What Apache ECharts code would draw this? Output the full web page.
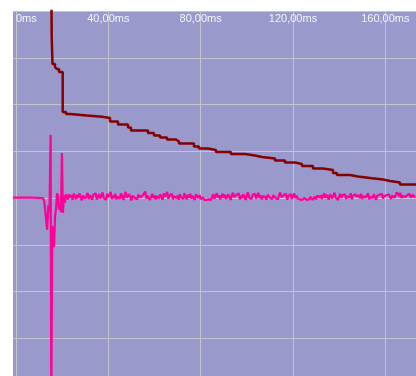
<!DOCTYPE html>
<html>
<head>
<meta charset="utf-8">
<script src="https://cdn.jsdelivr.net/npm/echarts@6/dist/echarts.min.js"></script>
<style>
  html, body { margin: 0; padding: 0; background: #ffffff; }
  #chart { width: 416px; height: 376px; }
</style>
</head>
<body>
<div id="chart"></div>
<script>
// Time axis (ms) and its labelled ticks
const tickValues = [0, 40, 80, 120, 160];
const tickLabels = ['0ms', '40,00ms', '80,00ms', '120,00ms', '160,00ms'];

// Decay trace: each point starts a new step level [ms, value]
const decayTimes = [15.16, 15.47, 15.81, 16.90, 17.76, 18.63, 20.23, 21.66, 23.39, 30.76,
  37.26, 40.72, 44.19, 48.52, 49.82, 57.18, 59.78, 62.38, 65.42, 69.32,
  70.62, 77.11, 79.28, 83.18, 86.64, 93.14, 99.21, 103.54, 106.57, 112.20,
  116.54, 120.87, 123.90, 128.67, 133.00, 137.33, 139.06, 144.70, 148.16, 154.23,
  158.99, 162.02, 166.36, 173.29];
const decayValues = [55, 34.44, 28.66, 28.02, 27.59, 26.95, 18.40, 17.97, 17.65, 17.39,
  17.11, 16.36, 15.72, 15.08, 14.44, 13.90, 13.37, 12.94, 12.51, 12.09,
  11.66, 11.02, 10.59, 10.27, 9.84, 9.41, 9.09, 8.77, 8.45, 8.02,
  7.59, 7.27, 6.84, 6.31, 5.99, 5.35, 4.92, 4.60, 4.21, 3.96,
  3.64, 3.32, 2.89, 2.89];

// Signal trace: quiet lead-in and the transient burst [ms, value]
const burstTimes = [-1.3, 6, 11.5, 12.2, 13.0, 13.5, 14.0, 14.5, 15.0, 15.3,
  15.7, 16.1, 16.5, 16.9, 17.3, 17.8, 18.2, 18.6, 19.0, 19.5,
  19.9, 20.3, 20.8, 21.2, 21.6];
const burstValues = [0.1, 0.1, 0.0, -0.5, -0.4, -6.8, -1.5, -3.0, 13.5, -45,
  -6.0, -8.0, -10.5, -4.0, -2.5, 1.0, 0.5, -2.5, -1.5, -3.0,
  9.6, -3.2, 0.5, -1.0, 0.8];

// Signal trace: residual noise sampled every 0.5 ms from 22 ms
const noiseStart = 22;
const noiseStep = 0.5;
const noiseValues = [
  0.4, -0.3, 0.8, 0.1, 0.6, -0.4, 0.9, 0.3, -0.2, 0.7, 0.0, 1.0, 0.2, -0.5, 0.5, 0.8, -0.1, 0.4, 1.1, -0.2,
  0.6, 0.1, -0.4, 0.7, 0.3, 1.0, -0.3, 0.2, 0.8, -0.1, 0.5, 1.2, 0.0, 0.4, -0.4, 0.9, 0.2, 0.6, 1.3, -0.2,
  0.5, 0.0, 0.9, -0.3, 0.3, 0.7, -0.1, 1.0, 0.4, -0.4, 0.6, 1.3, 0.1, -0.2, 0.8, 0.3, -0.5, 0.5, 0.9, 0.0,
  0.4, -0.3, 0.7, 1.0, 0.1, -0.2, 0.6, 0.3, 1.4, -0.1, 0.5, 0.8, -0.4, 0.2, 0.9, 0.0, 0.6, -0.3, 0.4, 0.7,
  -0.1, 0.8, 0.2, -0.4, 1.0, 0.3, 0.6, 1.3, -0.2, 0.5, 0.1, 0.9, -0.3, 0.4, 0.7, 0.0, 0.5, -0.4, 0.8, 0.2,
  0.6, -0.2, 1.0, 0.3, -0.3, 0.7, 0.1, 0.9, -0.1, 0.5, 0.2, -0.4, 0.8, 0.4, 0.0, 0.6, -0.2, -0.3, 0.1, -0.4,
  -0.2, -0.4, 0.0, -0.3, -0.1, -0.4, 0.3, 0.8, -0.2, 0.5, 1.0, 0.1, 0.6, -0.3, 0.4, 0.9, 0.0, 0.7, -0.2, 0.3,
  0.8, 0.1, -0.4, 0.6, 1.1, 0.2, -0.1, 0.7, 0.3, 1.0, -0.3, 0.5, 0.0, 0.8, 0.2, -0.4, 0.6, 1.2, 0.1, 0.4,
  -0.2, 0.7, 0.3, 0.9, -0.1, 0.5, 1.1, 0.0, 0.6, -0.3, 0.4, 0.8, 0.2, -0.4, 0.7, 1.0, 0.1, 0.5, -0.2, 0.6,
  0.9, 0.0, 0.4, -0.3, 0.7, 1.2, 0.2, -0.1, 0.6, 0.3, 0.9, -0.4, 0.5, 0.1, 0.8, -0.2, 0.4, 1.0, 0.0, 0.5,
  -0.1, 0.3, -0.3, 0.1, -0.4, -0.2, 0.0, -0.3, -0.4, -0.1, -0.3, 0.2, -0.2, -0.4, 0.0, 0.3, -0.3, 0.5, 0.9, 0.1,
  0.6, -0.2, 0.4, 1.0, 0.0, 0.7, 0.2, -0.3, 0.8, 0.4, -0.1, 0.6, 1.1, 0.1, 0.5, -0.4, 0.3, 0.9, 0.0, 0.6,
  0.2, 0.8, -0.2, 0.4, 0.7, 0.1, 1.0, -0.3, 0.5, 0.2, 0.8, 0.3, -0.1, 0.6, 0.0, 0.9, -0.2, 0.4, 0.7, 0.1,
  0.5, 1.0, -0.3, 0.3, 0.6, 0.0, 0.8, 0.2, -0.4, 0.5, 0.1, 0.7, 0.3, 0.9, -0.1, 0.4, 0.0, 0.6, 0.2, 0.8,
  0.3, -0.2, 0.5, 0.9, 0.1, 0.6, 1.2, 1.4, 0.4, 1.1, 0.0, 0.5, 0.8, 0.2, -0.1, 0.6, 0.3, 0.9, 0.1, 0.5,
  0.7, 0.2, 0.4
];

const decayData = decayTimes.map((t, i) => [t, decayValues[i]]);
const signalData = burstTimes.map((t, i) => [t, burstValues[i]])
  .concat(noiseValues.map((v, i) => [noiseStart + i * noiseStep, v]));

const chart = echarts.init(document.getElementById('chart'), null, { renderer: 'canvas' });

const gridColor = '#c4c4cc';

chart.setOption({
  animation: false,
  backgroundColor: '#ffffff',
  grid: {
    left: 13, right: 0, top: 11, height: 374,
    outerBoundsMode: 'none',
    show: true, backgroundColor: '#9999cc', borderWidth: 0
  },
  xAxis: {
    type: 'value',
    position: 'top',
    min: -1.3,
    max: 173.3,
    axisLine: { show: false },
    axisTick: { show: false, customValues: tickValues },
    splitLine: { show: true, customValues: tickValues, lineStyle: { color: gridColor, width: 1 } },
    axisLabel: {
      inside: true,
      customValues: tickValues,
      margin: 2,
      verticalAlign: 'top',
      color: '#f4f4f8',
      fontFamily: 'Liberation Sans, Arial, sans-serif',
      fontSize: 11,
      alignMinLabel: 'left',
      formatter: v => tickLabels[tickValues.indexOf(v)] || ''
    }
  },
  yAxis: {
    type: 'value',
    min: -40,
    max: 40,
    interval: 10,
    axisLine: { show: false },
    axisTick: { show: false },
    axisLabel: { show: false },
    splitLine: { show: true, lineStyle: { color: gridColor, width: 1 } }
  },
  series: [
    {
      name: 'signal',
      type: 'line',
      data: signalData,
      showSymbol: false,
      clip: true,
      lineStyle: { color: '#ff0099', width: 2.2 },
      z: 3
    },
    {
      name: 'decay',
      type: 'line',
      data: decayData,
      step: 'end',
      showSymbol: false,
      clip: true,
      lineStyle: { color: '#850000', width: 2.5 },
      z: 4
    }
  ]
});
</script>
</body>
</html>
